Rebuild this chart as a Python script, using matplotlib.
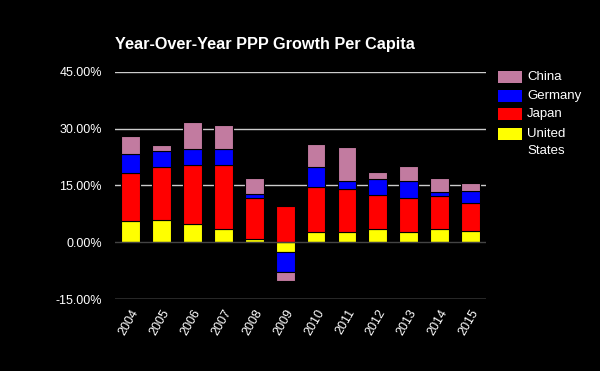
import numpy as np
import matplotlib
matplotlib.use("Agg")
import matplotlib.pyplot as plt
from matplotlib.patches import Rectangle
from matplotlib.ticker import FuncFormatter

plt.rcParams['font.family'] = ['Liberation Sans', 'DejaVu Sans']

years = ['2004', '2005', '2006', '2007', '2008', '2009', '2010', '2011', '2012', '2013', '2014', '2015']
united_states = [5.5, 5.8, 4.8, 3.5, 0.8, -2.6, 2.8, 2.8, 3.4, 2.6, 3.4, 2.9]
japan = [12.7, 14.2, 15.5, 16.8, 11.0, 9.6, 11.7, 11.3, 9.1, 9.0, 8.7, 7.6]
germany = [5.2, 4.1, 4.4, 4.4, 0.9, -5.3, 5.4, 2.1, 4.1, 4.6, 1.1, 3.1]
china = [4.6, 1.5, 7.0, 6.2, 4.2, -2.3, 6.0, 8.9, 1.9, 3.9, 3.7, 2.0]

series = [('United States', united_states, '#ffff00'),
          ('Japan', japan, '#ff0000'),
          ('Germany', germany, '#0000ff'),
          ('China', china, '#c27ba0')]

W, H = 600, 371
fig = plt.figure(figsize=(W / 100, H / 100), dpi=100, facecolor='black')
ax = fig.add_axes([0.192, 0.194, 0.618, 0.612], facecolor='black')

x = np.arange(len(years))
pos_bottom = np.zeros(len(years))
neg_bottom = np.zeros(len(years))
for name, vals, color in series:
    vals = np.array(vals)
    bottom = np.where(vals >= 0, pos_bottom, neg_bottom)
    ax.bar(x, vals, width=0.61, bottom=bottom, color=color,
           edgecolor='black', linewidth=0.8, label=name, zorder=3)
    pos_bottom += np.where(vals >= 0, vals, 0)
    neg_bottom += np.where(vals < 0, vals, 0)

ax.set_xlim(-0.5, len(years) - 0.5)
ax.set_ylim(-15, 45)
ax.set_yticks([-15, 0, 15, 30, 45])
ax.yaxis.set_major_formatter(FuncFormatter(lambda v, p: '%.2f%%' % v))
for yv in [-15, 15, 30, 45]:
    ax.axhline(yv, color='#cccccc', linewidth=1, zorder=1)
ax.axhline(0, color='#444444', linewidth=1, zorder=4)

ax.set_xticks(x)
ax.set_xticklabels(years, rotation=60, ha='right', rotation_mode='anchor')
ax.tick_params(axis='y', colors='white', labelsize=9, length=0, pad=9.5)
ax.tick_params(axis='x', colors='white', labelsize=9, length=0, pad=6)
for s in ax.spines.values():
    s.set_visible(False)

fig.text(0.192, 0.868, 'Year-Over-Year PPP Growth Per Capita', color='white',
         fontsize=11.7, fontweight='bold', ha='left', va='baseline')

# legend drawn by hand so the two-line "United States" label sits like the original
legend_rows = [('China', '#c27ba0', 77), ('Germany', '#0000ff', 96),
               ('Japan', '#ff0000', 114.5), ('United', '#ffff00', 134)]
for label, color, yc in legend_rows:
    fig.patches.append(Rectangle((498 / W, 1 - (yc + 6) / H), 24 / W, 12 / H,
                                 transform=fig.transFigure, facecolor=color,
                                 edgecolor='none'))
    fig.text(527 / W, 1 - yc / H, label, color='white', fontsize=9.5,
             ha='left', va='center')
fig.text(527 / W, 1 - 151 / H, 'States', color='white', fontsize=9.5,
         ha='left', va='center')

fig.savefig('out.png', dpi=100, facecolor='black')
